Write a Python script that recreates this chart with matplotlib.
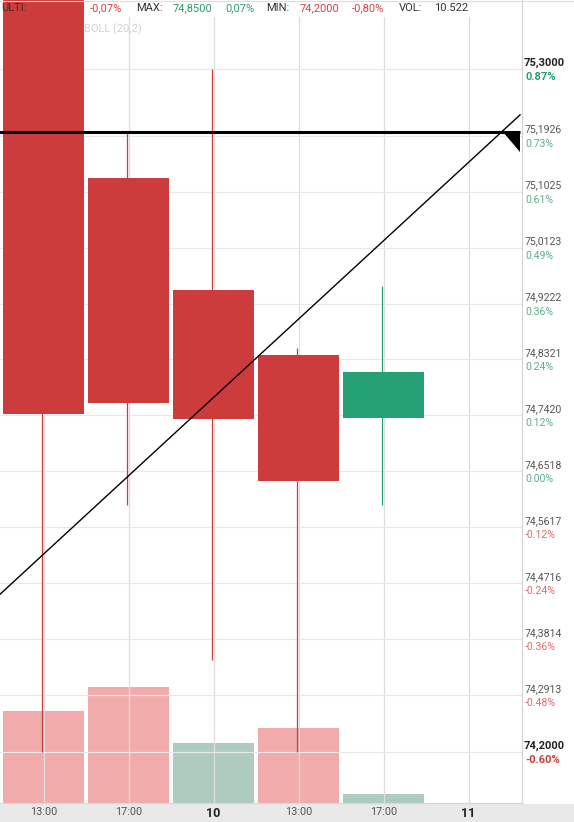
import matplotlib.pyplot as plt
from matplotlib.patches import Rectangle, Polygon
from matplotlib.transforms import offset_copy

plt.rcParams['font.family'] = ['Roboto', 'DejaVu Sans']

# 4h candles
opens = [75.450, 75.124, 74.944, 74.839, 74.738]
highs = [75.450, 75.198, 75.300, 74.851, 74.950]
lows = [74.200, 74.598, 74.348, 74.200, 74.598]
closes = [74.744, 74.762, 74.736, 74.636, 74.812]
volumes = [107500, 135600, 70100, 87700, 10522]
volume_up = [False, False, True, False, True]

tick_labels = ['13:00', '17:00', '10', '13:00', '17:00', '11']
day_labels = ['10', '11']

price_levels = [75.3000, 75.1926, 75.1025, 75.0123, 74.9222, 74.8321, 74.7420,
                74.6518, 74.5617, 74.4716, 74.3814, 74.2913, 74.2000]
price_texts = ['75,3000', '75,1926', '75,1025', '75,0123', '74,9222', '74,8321', '74,7420',
               '74,6518', '74,5617', '74,4716', '74,3814', '74,2913', '74,2000']
pct_texts = ['0.87%', '0.73%', '0.61%', '0.49%', '0.36%', '0.24%', '0.12%',
             '0.00%', '-0.12%', '-0.24%', '-0.36%', '-0.48%', '-0.60%']

# drawn objects: trend line and horizontal level
trend_x = [-0.512, 5.606]
trend_y = [74.454, 75.226]
hline_level = 75.1985
hline_end = 5.606

RED = '#cc3c3c'
GREEN = '#26a075'
RED_VOL = '#e55959'
GREEN_VOL = '#5f9880'

W, H = 574, 822
fig = plt.figure(figsize=(W / 100, H / 100), dpi=100)
fig.patch.set_facecolor('white')

# grey band behind the time axis
fig.add_artist(Rectangle((0, 0), 1, 18 / H, transform=fig.transFigure,
                         facecolor='#e9e9e9', edgecolor='none', zorder=0))

ax = fig.add_axes([0, 19 / H, 522 / W, 803 / H])
ax2 = ax.twinx()
ax.set_zorder(ax2.get_zorder() + 1)
ax.patch.set_visible(False)

ax.set_xlim(-0.512, 5.629)
ax.set_ylim(74.1179, 75.411)
ax2.set_ylim(0, 938700)

# volume bars
for i, v in enumerate(volumes):
    ax2.bar(i, v, width=0.953, color=GREEN_VOL if volume_up[i] else RED_VOL,
            alpha=0.5, linewidth=0)
ax2.set_yticks([])
for s in ax2.spines.values():
    s.set_visible(False)

# grid
ax.set_axisbelow(True)
ax.set_yticks(price_levels)
ax.set_yticklabels([])
ax.tick_params(axis='y', length=0)
ax.grid(axis='y', color='#e8e8e8', linewidth=0.9)
ax.set_xticks(range(len(tick_labels)))
ax.set_xticklabels(tick_labels)
ax.grid(axis='x', color='#dedede', linewidth=0.9)
ax.tick_params(axis='x', length=0, pad=3.2, labelsize=7.8, labelcolor='#555555')
for lab in ax.get_xticklabels():
    if lab.get_text() in day_labels:
        lab.set_fontweight('bold')
        lab.set_fontsize(9)
        lab.set_color('#222222')

for name in ['top', 'left']:
    ax.spines[name].set_visible(False)
ax.spines['right'].set_color('#d5d5d5')
ax.spines['bottom'].set_color('#d8d8d8')
ax.spines['right'].set_linewidth(0.9)
ax.spines['bottom'].set_linewidth(0.9)

# white header strip over the grid
ax.add_patch(Rectangle((0, 1 - 17 / 803), 1, 17 / 803, transform=ax.transAxes,
                       facecolor='white', edgecolor='none', zorder=1))

# candles (wick sits just left of the grid line)
for i in range(len(opens)):
    o, c = opens[i], closes[i]
    col = GREEN if c >= o else RED
    ax.vlines(i - 0.02, lows[i], highs[i], color=col, linewidth=0.9, zorder=2)
    ax.bar(i, abs(c - o), bottom=min(o, c), width=0.953, color=col, linewidth=0, zorder=3)

# trend line and horizontal level with its handle
ax.plot(trend_x, trend_y, color='black', linewidth=1.0, zorder=4)
ax.hlines(hline_level, -0.6, hline_end, color='black', linewidth=2.2, zorder=4)
ax.add_patch(Polygon([(hline_end - 0.2, hline_level), (hline_end, hline_level),
                      (hline_end, hline_level - 0.032)], closed=True,
                     facecolor='black', edgecolor='none', zorder=4))

# right side price / percent labels
ytr = ax.get_yaxis_transform()
up_tr = offset_copy(ytr, fig=fig, y=6.5, units='dots')
dn_tr = offset_copy(ytr, fig=fig, y=-8, units='dots')
for k, (p, pt, pc) in enumerate(zip(price_levels, price_texts, pct_texts)):
    bold = k == 0 or k == len(price_levels) - 1
    neg = pc.startswith('-')
    if bold:
        pcol = '#27a06f' if not neg else '#d03a3a'
    else:
        pcol = '#5fae8a' if not neg else '#dc6b6b'
    ax.text(1.004, p, pt, transform=up_tr, ha='left', va='center', clip_on=False,
            fontsize=8 if bold else 7.6, fontweight='bold' if bold else 'normal',
            color='#222222' if bold else '#555555')
    ax.text(1.006, p, pc, transform=dn_tr, ha='left', va='center', clip_on=False,
            fontsize=8 if bold else 7.6, fontweight='bold' if bold else 'normal',
            color=pcol)

# header
fig.add_artist(plt.Line2D([0, 1], [1 - 1 / H, 1 - 1 / H], transform=fig.transFigure,
                          color='#dddddd', linewidth=0.8))
header = [(1, 'ULTI:', '#333333'), (90, '-0,07%', '#d94040'), (136, 'MAX:', '#333333'),
          (173, '74,8500', '#2e9c6e'), (225, '0,07%', '#2e9c6e'), (266, 'MIN:', '#333333'),
          (300, '74,2000', '#d94040'), (352, '-0,80%', '#d94040'), (399, 'VOL:', '#333333'),
          (434, '10.522', '#333333')]
for x, t, col in header:
    fig.text(x / W, 1 - 8 / H, t, ha='left', va='center', fontsize=8, color=col)
fig.text(84 / W, 1 - 29 / H, 'BOLL (20,2)', ha='left', va='center', fontsize=8, color='#d3d3d3')

fig.savefig('out.png', dpi=100)
